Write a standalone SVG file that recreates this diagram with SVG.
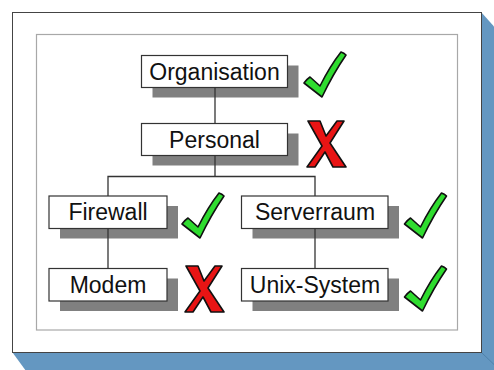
<svg xmlns="http://www.w3.org/2000/svg" xmlns:xlink="http://www.w3.org/1999/xlink" width="494" height="370" viewBox="0 0 494 370">
<style>
.shadow{fill:#808080}
.box{fill:#fff;stroke:#333;stroke-width:1.2}
.lbl{font-family:"Liberation Sans",Arial,sans-serif;font-size:23px;fill:#111;text-anchor:middle}
.conn{stroke:#333;stroke-width:1.3;fill:none}
.ok{fill:#2fdc2f;stroke:#111;stroke-width:1.6;stroke-linejoin:round}
.no{fill:#e81414;stroke:#111;stroke-width:1.6;stroke-linejoin:round}
</style>
<defs>
<path id="check" d="M0,31 Q3,27 6,25 L16,34 Q26,14 37,0 Q40,1 42,3 Q29,22 18,45 Z"/>
<path id="cross" d="M2,0 L14,0 L20,15 L31,0 L38,0 L24,22 L40,46 L27,46 L19,31 L9,46 L1,46 L16,25 Z"/>
</defs>
<rect width="494" height="370" fill="#fff"/>
<g id="frame">
<polygon points="481.5,12.5 494.5,27 494.5,371 26,371 12.5,352.5" fill="#6497c1"/>
<line x1="481.5" y1="352.5" x2="494.5" y2="365" stroke="#4f82ab" stroke-width="1"/>
<rect x="12.5" y="12.5" width="469" height="340" fill="#fff" stroke="#444" stroke-width="1"/>
<rect x="36.5" y="34.5" width="421" height="295.5" fill="#fff" stroke="#a8a8a8" stroke-width="1.2"/>
</g>
<g id="node-organisation">
<rect class="shadow" x="152.5" y="65.5" width="146" height="32"/>
<rect class="box" x="141.5" y="55.5" width="146" height="32"/>
<text class="lbl" x="214.5" y="79.5">Organisation</text>
<use xlink:href="#check" class="ok" x="304" y="52"/>
</g>
<g id="node-personal">
<rect class="shadow" x="152.5" y="133.5" width="146" height="32"/>
<rect class="box" x="141.5" y="123.5" width="146" height="32"/>
<text class="lbl" x="214.5" y="147.5">Personal</text>
<use xlink:href="#cross" class="no" x="306" y="121"/>
</g>
<g id="node-firewall">
<rect class="shadow" x="60" y="206" width="118" height="32.5"/>
<rect class="box" x="49" y="196" width="118" height="32.5"/>
<text class="lbl" x="108" y="220">Firewall</text>
<use xlink:href="#check" class="ok" x="182" y="193"/>
</g>
<g id="node-serverraum">
<rect class="shadow" x="252.5" y="206" width="146.5" height="32.5"/>
<rect class="box" x="241.5" y="196" width="146.5" height="32.5"/>
<text class="lbl" x="315" y="220">Serverraum</text>
<use xlink:href="#check" class="ok" x="404.5" y="193"/>
</g>
<g id="node-modem">
<rect class="shadow" x="60" y="278.5" width="118" height="32.5"/>
<rect class="box" x="49" y="268.5" width="118" height="32.5"/>
<text class="lbl" x="108" y="292.5">Modem</text>
<use xlink:href="#cross" class="no" x="184" y="266"/>
</g>
<g id="node-unix">
<rect class="shadow" x="252.5" y="278.5" width="146.5" height="32.5"/>
<rect class="box" x="241.5" y="268.5" width="146.5" height="32.5"/>
<text class="lbl" x="315" y="292.5">Unix-System</text>
<use xlink:href="#check" class="ok" x="404.5" y="266"/>
</g>
<g id="connectors">
<line class="conn" x1="215" y1="87.5" x2="215" y2="123.5"/>
<polyline class="conn" points="215,155.5 215,176.5"/>
<polyline class="conn" points="108,196 108,176.5 315,176.5 315,196"/>
<line class="conn" x1="108" y1="228.5" x2="108" y2="268.5"/>
<line class="conn" x1="315" y1="228.5" x2="315" y2="268.5"/>
</g>
</svg>
